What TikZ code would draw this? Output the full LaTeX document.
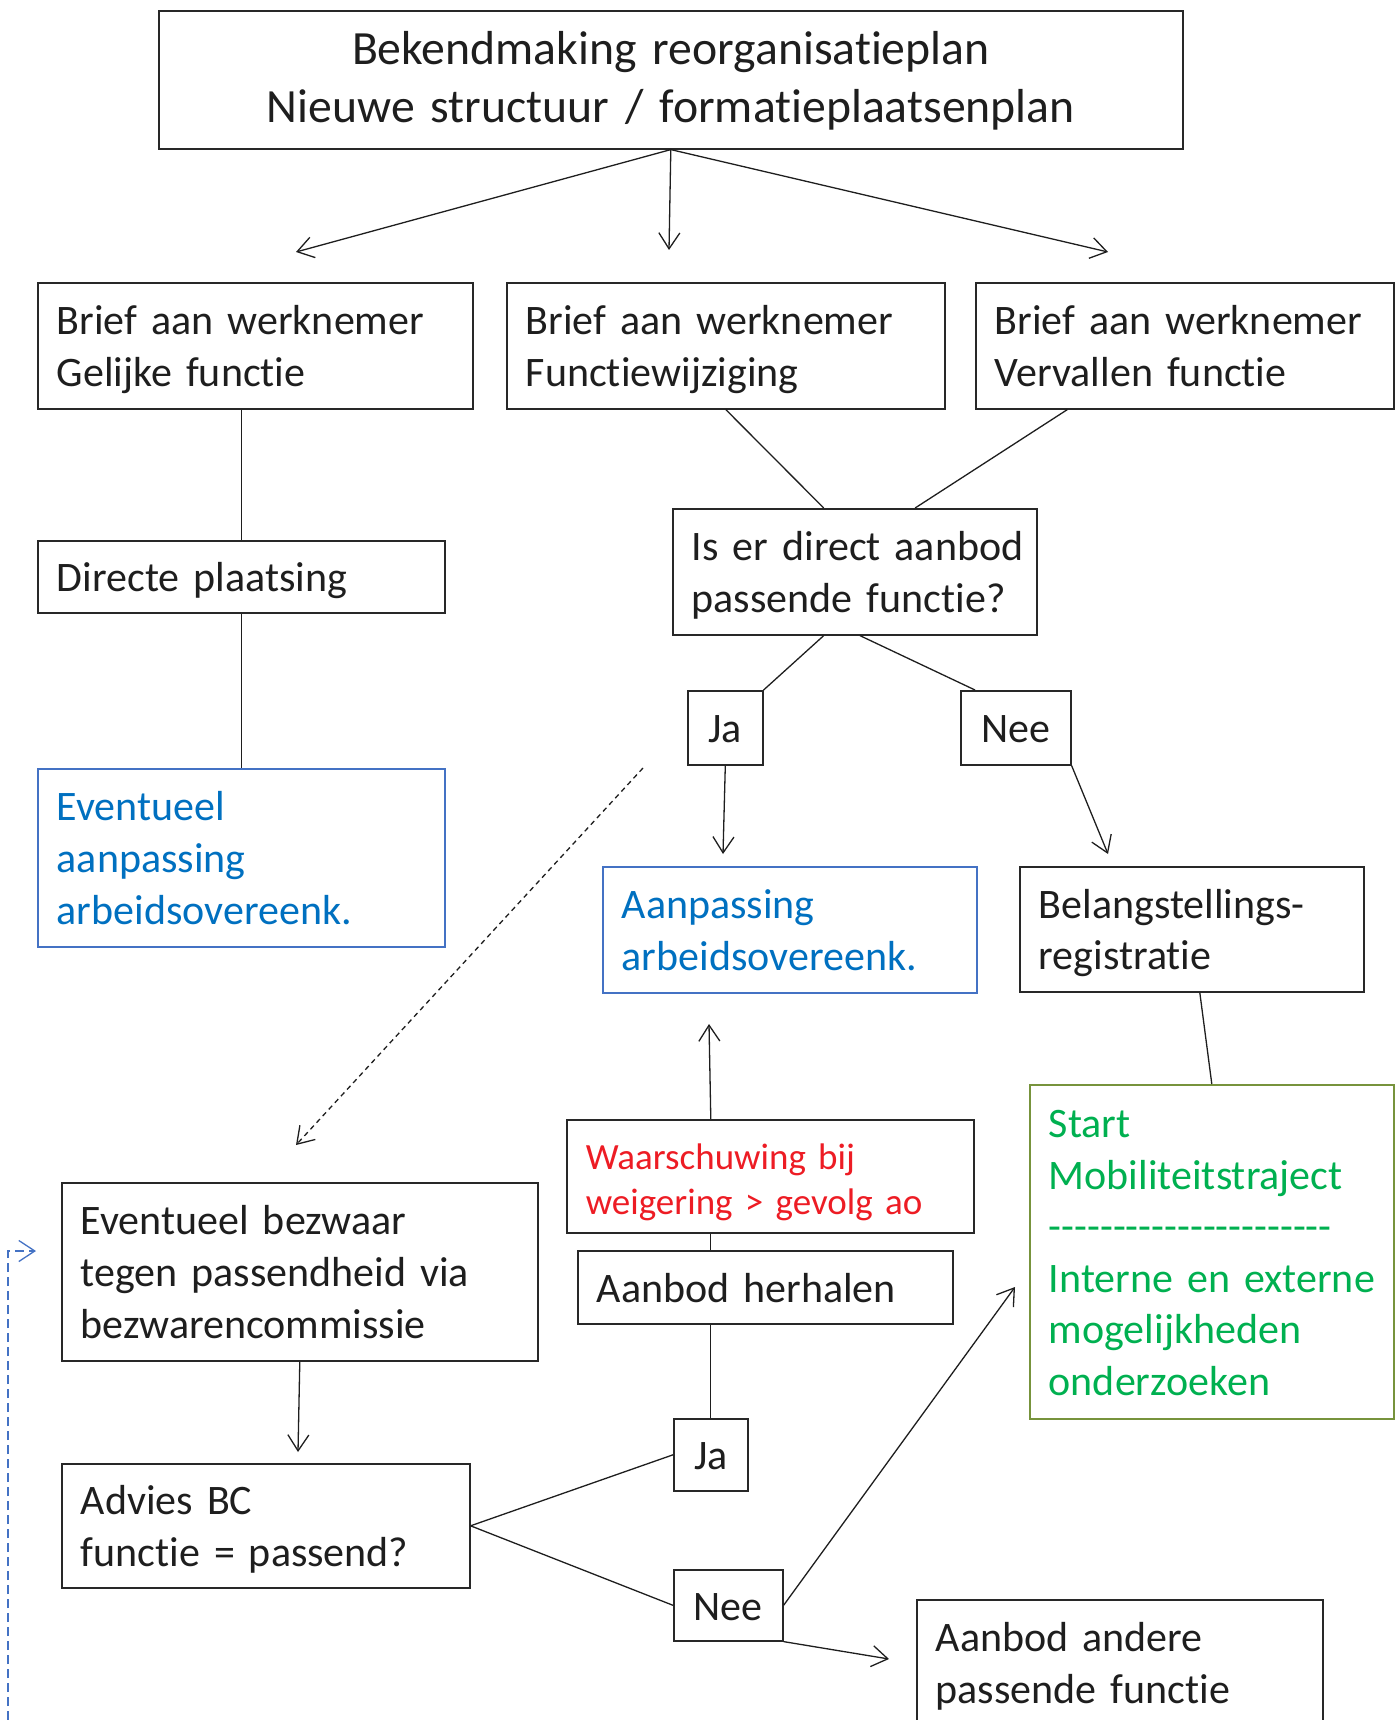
\documentclass[tikz,border=0pt]{standalone}
\usepackage{fontspec}
\setmainfont{Carlito}[Ligatures=CommonOff]
\usetikzlibrary{arrows.meta,calc}

\definecolor{inkgray}{RGB}{30,30,30}
\definecolor{framegray}{RGB}{40,40,40}
\definecolor{boxblue}{RGB}{68,114,196}
\definecolor{textblue}{RGB}{0,112,192}
\definecolor{warnred}{RGB}{237,28,36}
\definecolor{mobgreen}{RGB}{0,176,80}
\definecolor{mobborder}{RGB}{119,147,60}

\newcommand\boxfont{\fontsize{42}{51.6}\selectfont}
\newcommand\topfont{\fontsize{47.7}{58}\selectfont}
\newcommand\warnfont{\fontsize{37}{45}\selectfont}
\newcommand\dashrow{\foreach \k in {1,...,22}{\mbox{-}}}

\tikzset{
  box/.style={draw=framegray, line width=1.6pt, anchor=north west, align=left,
    inner xsep=19pt, inner ysep=0pt, font=\boxfont, text=inkgray,
    execute at begin node={\hyphenpenalty=10000\rule{0pt}{45pt}},
    execute at end node={\strut}},
  small/.style={box, align=center, inner xsep=2pt},
  link/.style={line width=1.3pt, draw=inkgray},
}

\begin{document}
\begin{tikzpicture}[x=1pt,y=-1pt,>={Straight Barb[length=16pt,width=21pt]}]
\clip (0,0) rectangle (1398,1720);

\node[box, align=center, text width=986pt, minimum height=138pt, font=\topfont] (plan) at (158,10) {Bekendmaking reorganisatieplan\\Nieuwe structuur / formatieplaatsenplan};

\node[box, text width=397pt, minimum height=126pt] (gelijk) at (37,282) {Brief aan werknemer\\Gelijke functie};
\node[box, text width=400pt, minimum height=126pt] (wijziging) at (506,282) {Brief aan werknemer\\Functiewijziging};
\node[box, text width=380pt, minimum height=126pt] (vervallen) at (975,282) {Brief aan werknemer\\Vervallen functie};

\node[box, text width=369pt, minimum height=72pt] (plaatsing) at (37,540) {Directe plaatsing};
\node[box, draw=boxblue, text=textblue, text width=369pt, minimum height=178pt] (aanpassing1) at (37,768) {Eventueel\\aanpassing\\arbeidsovereenk.};

\node[box, text width=326pt, minimum height=126pt] (aanbod) at (672,508) {Is~er~direct~aanbod\\passende functie?};
\node[small, minimum width=75pt, minimum height=74pt] (ja1) at (687,690) {Ja};
\node[small, minimum width=110pt, minimum height=74pt] (nee1) at (960,690) {Nee};

\node[box, draw=boxblue, text=textblue, text width=336pt, minimum height=126pt] (aanpassing2) at (602,866) {Aanpassing\\arbeidsovereenk.};
\node[box, text width=306pt, minimum height=125pt] (belang) at (1019,866) {Belangstellings-\\registratie};
\node[box, draw=mobborder, text=mobgreen, text width=326pt, minimum height=334pt] (mobiliteit) at (1029,1084) {Start\\Mobiliteitstraject\\\dashrow\\Interne~en~externe\\mogelijkheden\\onderzoeken};

\node[box, text=warnred, font=\warnfont, text width=369pt, minimum height=113pt] (waarschuwing) at (566,1119) {Waarschuwing bij\\weigering > gevolg ao};
\node[box, text width=337pt, minimum height=73pt] (herhalen) at (577,1250) {Aanbod herhalen};

\node[box, text width=438pt, minimum height=178pt] (bezwaar) at (61,1182) {Eventueel bezwaar\\tegen passendheid via\\bezwarencommissie};
\node[box, text width=370pt, minimum height=124pt] (advies) at (61,1463) {Advies BC\\functie = passend?};
\node[small, minimum width=74pt, minimum height=72pt] (ja2) at (673,1418) {Ja};
\node[small, minimum width=109pt, minimum height=71pt] (nee2) at (673,1569) {Nee};
\node[box, text width=368pt, minimum height=126pt] (andere) at (916,1599) {Aanbod andere\\passende functie};

\coordinate (t1) at (296,252);
\coordinate (t2) at (669,250);
\coordinate (t3) at (1108,252);
\draw[link,->] (plan.south) -- (t1);
\draw[link,->] (plan.south) -- (t2);
\draw[link,->] (plan.south) -- (t3);

\draw[link] (plaatsing.north |- gelijk.south) -- (plaatsing.north);
\draw[link] (plaatsing.south) -- (aanpassing1.north);

\draw[link] (wijziging.south) -- ($(aanbod.north west)!0.415!(aanbod.north east)$);
\draw[link] ($(vervallen.south west)!0.22!(vervallen.south east)$) -- ($(aanbod.north west)!0.665!(aanbod.north east)$);
\draw[link] ($(aanbod.south west)!0.415!(aanbod.south east)$) -- (ja1.north east);
\draw[link] ($(aanbod.south west)!0.514!(aanbod.south east)$) -- ($(nee1.north west)+(15,0)$);

\coordinate (j1) at (723,854);
\coordinate (n1) at (1108,854);
\draw[link,->] (ja1.south) -- (j1);
\draw[link,->] (nee1.south east) -- (n1);
\draw[link] ($(belang.south)+(8,0)$) -- (mobiliteit.north);

\coordinate (d1) at (643,768);
\coordinate (d2) at (296,1145);
\draw[link,->,dash pattern=on 5pt off 4pt] (d1) -- (d2);

\coordinate (w1) at (709,1024);
\draw[link,->] (waarschuwing.north -| ja2.north) -- (w1);
\draw[link] (waarschuwing.south -| ja2.north) -- (herhalen.north -| ja2.north);
\draw[link] (herhalen.south -| ja2.north) -- (ja2.north);

\coordinate (b1) at (298,1452);
\draw[link,->] (bezwaar.south) -- (b1);
\draw[link] (advies.east) -- (ja2.west);
\draw[link] (advies.east) -- (nee2.west);

\coordinate (m1) at (1015,1287);
\coordinate (a1) at (889,1659);
\draw[link,->] (nee2.east) -- (m1);
\draw[link,->] (nee2.south east) -- (a1);

\coordinate (r0) at (8,1720);
\coordinate (r1) at (8,1251);
\coordinate (r2) at (36,1251);
\draw[link,draw=boxblue,dash pattern=on 9pt off 5pt,->] (r0) -- (r1) -- (r2);

\end{tikzpicture}
\end{document}
